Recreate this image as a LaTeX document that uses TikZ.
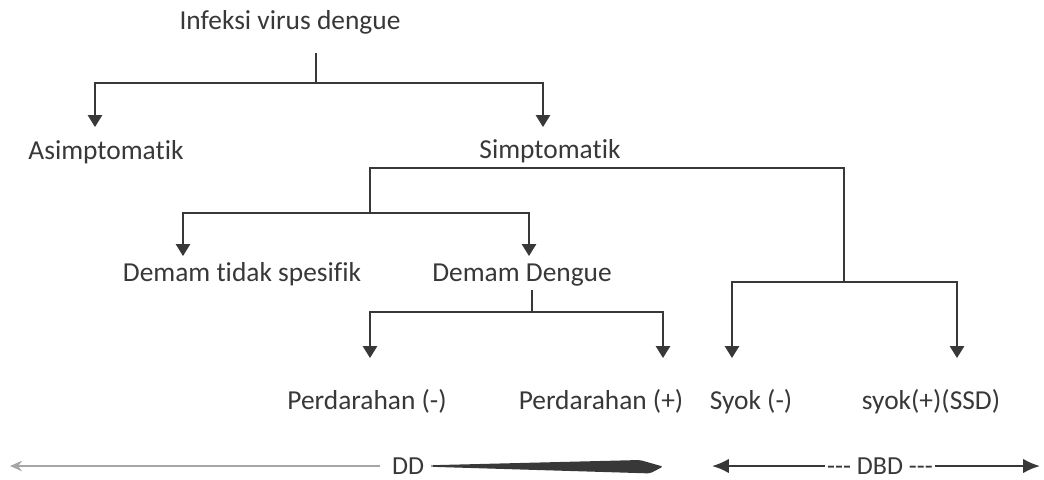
\documentclass[tikz,border=0pt]{standalone}
\usepackage{fontspec}
\setmainfont{Carlito}[Ligatures=NoCommon]
\usepackage{xcolor}
\usepackage{tikz}
\usetikzlibrary{arrows.meta, positioning, calc}

\definecolor{ink}{HTML}{383838}

\begin{document}
\begin{tikzpicture}[
  lbl/.style={font=\fontsize{19.5}{23}\selectfont, text=ink, inner sep=0pt, anchor=base},
  barlbl/.style={font=\fontsize{18.5}{22}\selectfont, text=ink, inner sep=0pt},
  link/.style={draw=ink, line width=1.2pt},
  arr/.style={link, -{Triangle[length=0.3cm, width=0.36cm]}},
  dbdarr/.style={draw=ink, line width=1.5pt, -{Latex[length=0.42cm, width=0.36cm]}},
  ddarr/.style={draw=gray!70, line width=1.1pt, -{Stealth[length=0.3cm, width=0.26cm]}},
]
  \useasboundingbox (0,0) rectangle (26.1,-11.975);

  \node[lbl] (inf)  at (7.25, -0.725)   {Infeksi virus dengue};
  \node[lbl] (asim) at (2.65, -3.975)   {Asimptomatik};
  \node[lbl] (simp) at (13.75, -3.95)   {Simptomatik};
  \node[lbl] (dts)  at (6.05, -7.025)   {Demam tidak spesifik};
  \node[lbl] (dd)   at (13.05, -7.025)  {Demam Dengue};
  \node[lbl] (p1)   at (9.175, -10.225) {Perdarahan (-)};
  \node[lbl] (p2)   at (15.025, -10.225) {Perdarahan (+)};
  \node[lbl] (sy1)  at (18.775, -10.225) {Syok (-)};
  \node[lbl] (sy2)  at (23.275, -10.225) {syok(+)(SSD)};

  % branch points and arrow tips
  \coordinate (infT)  at (7.9, -1.325);
  \coordinate (infJ)  at (7.9, -2.075);
  \coordinate (asimT) at (2.375, -3.175);
  \coordinate (simpT) at (13.575, -3.175);
  \coordinate (simpL) at (9.25, -4.2);
  \coordinate (simpR) at (21.1, -4.2);
  \coordinate (demJ)  at (9.25, -5.325);
  \coordinate (dtsT)  at (4.575, -6.4);
  \coordinate (ddT)   at (13.225, -6.4);
  \coordinate (ddJ0)  at (13.3, -7.25);
  \coordinate (ddJ)   at (13.3, -7.8);
  \coordinate (p1T)   at (9.25, -8.95);
  \coordinate (p2T)   at (16.575, -8.95);
  \coordinate (dbdJ)  at (21.1, -7.05);
  \coordinate (sy1T)  at (18.3, -8.95);
  \coordinate (sy2T)  at (23.925, -8.95);

  \draw[link] (infT) -- (infJ);
  \foreach \t in {asimT, simpT} {
    \draw[arr] (infJ) -| (\t);
  }
  \draw[link] (demJ) -- (simpL) -- (simpR) -- (dbdJ);
  \foreach \t in {dtsT, ddT} {
    \draw[arr] (demJ) -| (\t);
  }
  \draw[link] (ddJ0) -- (ddJ);
  \foreach \t in {p1T, p2T} {
    \draw[arr] (ddJ) -| (\t);
  }
  \foreach \t in {sy1T, sy2T} {
    \draw[arr] (dbdJ) -| (\t);
  }

  % DD / DBD scale
  \node[barlbl, inner xsep=5pt] (ddlab) at (10.2, -11.65) {DD};
  \node[barlbl, inner xsep=1pt] (dbdlab) at (22.0, -11.65) {-{}-{}- DBD -{}-{}-};
  \coordinate (ddEnd)  at (0.25, -11.65);
  \coordinate (dbdL)   at (17.8, -11.65);
  \coordinate (dbdR)   at (26.0, -11.65);

  \draw[ddarr, shorten <=3pt] (ddlab.west) -- (ddEnd);
  \fill[ink, rounded corners=1.5pt] ([yshift=0.02cm]ddlab.east) -- (16.0, -11.5)
    -- (16.575, -11.665) -- (16.25, -11.835) -- ([yshift=-0.02cm]ddlab.east) -- cycle;
  \draw[dbdarr] (dbdlab.west) -- (dbdL);
  \draw[dbdarr] (dbdlab.east) -- (dbdR);
\end{tikzpicture}
\end{document}
